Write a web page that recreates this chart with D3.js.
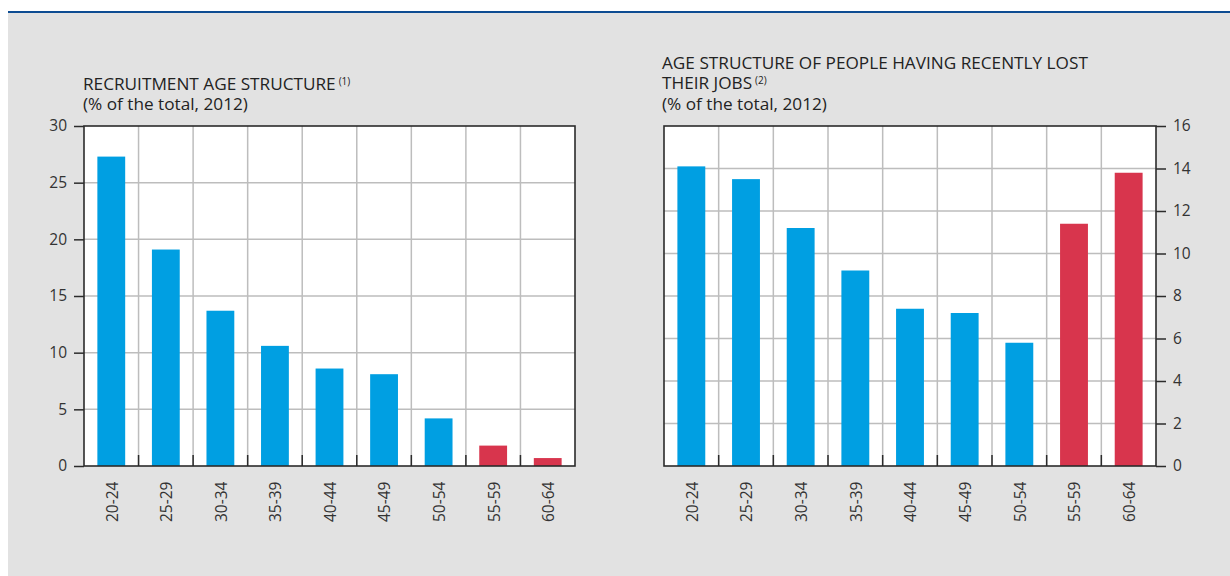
<!DOCTYPE html>
<html>
<head>
<meta charset="utf-8">
<script src="https://cdn.jsdelivr.net/npm/d3@7"></script>
<style>
  html, body { margin: 0; padding: 0; background: #ffffff; }
  svg { display: block; font-family: "Open Sans", "Noto Sans", sans-serif; }
</style>
</head>
<body>
<svg id="chart" width="1230" height="576"></svg>
<script>
// ---- data ----
const categories = ["20-24", "25-29", "30-34", "35-39", "40-44", "45-49", "50-54", "55-59", "60-64"];
const recruitmentValues = [27.3, 19.1, 13.7, 10.6, 8.6, 8.1, 4.2, 1.8, 0.7];
const jobLossValues = [14.1, 13.5, 11.2, 9.2, 7.4, 7.2, 5.8, 11.4, 13.8];
const highlighted = ["55-59", "60-64"];
const leftTicks = [0, 5, 10, 15, 20, 25, 30];
const rightTicks = [0, 2, 4, 6, 8, 10, 12, 14, 16];
const leftTitle = ["RECRUITMENT AGE STRUCTURE", "(% of the total, 2012)"];
const leftNote = "(1)";
const rightTitle = ["AGE STRUCTURE OF PEOPLE HAVING RECENTLY LOST", "THEIR JOBS", "(% of the total, 2012)"];
const rightNote = "(2)";

const BLUE = "#009fe2", RED = "#d8354d", GRID = "#bdbdbd", DARK = "#2b2b2b", TEXT = "#333333";

const svg = d3.select("#chart");
// background panel + top rule
svg.append("rect").attr("x", 8).attr("y", 13).attr("width", 1222).attr("height", 563).attr("fill", "#e2e2e2");
svg.append("rect").attr("x", 8).attr("y", 11).attr("width", 1222).attr("height", 2).attr("fill", "#0d4c92");

function drawPanel(cfg) {
  const { x0, x1, y0, y1, values, ticks, maxV, side, title, note, titleX, titleY } = cfg;
  const g = svg.append("g");
  const slot = d3.scaleBand().domain(categories).range([x0, x1]).padding(0);
  const band = d3.scaleBand().domain(categories).range([x0, x1]).paddingInner(0.49).paddingOuter(0.245);
  const y = d3.scaleLinear().domain([0, maxV]).range([y1, y0]);

  // plot background
  g.append("rect").attr("x", x0).attr("y", y0).attr("width", x1 - x0).attr("height", y1 - y0).attr("fill", "#ffffff");

  // horizontal gridlines
  g.selectAll(".hg").data(ticks.filter(t => t > 0 && t < maxV)).join("line")
    .attr("x1", x0).attr("x2", x1).attr("y1", d => y(d)).attr("y2", d => y(d))
    .attr("stroke", GRID).attr("stroke-width", 1.5);
  // vertical gridlines at category boundaries
  g.selectAll(".vg").data(categories.slice(1)).join("line")
    .attr("x1", d => slot(d)).attr("x2", d => slot(d)).attr("y1", y0).attr("y2", y1)
    .attr("stroke", GRID).attr("stroke-width", 1.5);

  // bars
  g.selectAll(".bar").data(categories).join("rect")
    .attr("x", d => band(d)).attr("width", band.bandwidth())
    .attr("y", (d, i) => y(values[i])).attr("height", (d, i) => y(0) - y(values[i]))
    .attr("fill", d => highlighted.includes(d) ? RED : BLUE);

  // bottom inward ticks at boundaries
  g.selectAll(".bt").data(categories.slice(1)).join("line")
    .attr("x1", d => slot(d)).attr("x2", d => slot(d)).attr("y1", y1 - 11).attr("y2", y1)
    .attr("stroke", DARK).attr("stroke-width", 1.5);

  // frame
  g.append("rect").attr("x", x0).attr("y", y0).attr("width", x1 - x0).attr("height", y1 - y0)
    .attr("fill", "none").attr("stroke", DARK).attr("stroke-width", 1.6);

  // value axis
  const axis = (side === "left" ? d3.axisLeft(y) : d3.axisRight(y))
    .tickValues(ticks).tickSize(10).tickPadding(7).tickFormat(d3.format("d"));
  const ag = g.append("g").attr("transform", `translate(${side === "left" ? x0 : x1},0)`).call(axis);
  ag.select(".domain").remove();
  ag.selectAll(".tick line").attr("stroke", DARK).attr("stroke-width", 1.5);
  ag.selectAll(".tick text").attr("fill", TEXT).style("font-size", "15.5px")
    .style("font-family", '"Open Sans", "Noto Sans", sans-serif');

  // category labels (rotated)
  g.selectAll(".cl").data(categories).join("text")
    .attr("transform", d => `translate(${slot(d) + slot.bandwidth() / 2 + 1},${y1 + 56}) rotate(-90)`)
    .attr("dy", "0.35em").attr("text-anchor", "start")
    .attr("fill", TEXT).style("font-size", "15.5px").text(d => d);

  // title
  const t = g.append("g");
  title.forEach((line, i) => {
    const tx = t.append("text").attr("x", titleX).attr("y", titleY + i * 20.5)
      .attr("fill", "#222").style("font-size", "17.2px");
    tx.append("tspan").text(line);
    if (i === title.length - 2) {
      tx.append("tspan").attr("dx", 3).attr("dy", -5).style("font-size", "10px").text(note);
    }
  });
}

drawPanel({ x0: 84, x1: 575, y0: 126, y1: 466, values: recruitmentValues, ticks: leftTicks, maxV: 30,
  side: "left", title: leftTitle, note: leftNote, titleX: 83, titleY: 89.5 });
drawPanel({ x0: 664, x1: 1156, y0: 126, y1: 466, values: jobLossValues, ticks: rightTicks, maxV: 16,
  side: "right", title: rightTitle, note: rightNote, titleX: 662, titleY: 68.5 });
</script>
</body>
</html>
